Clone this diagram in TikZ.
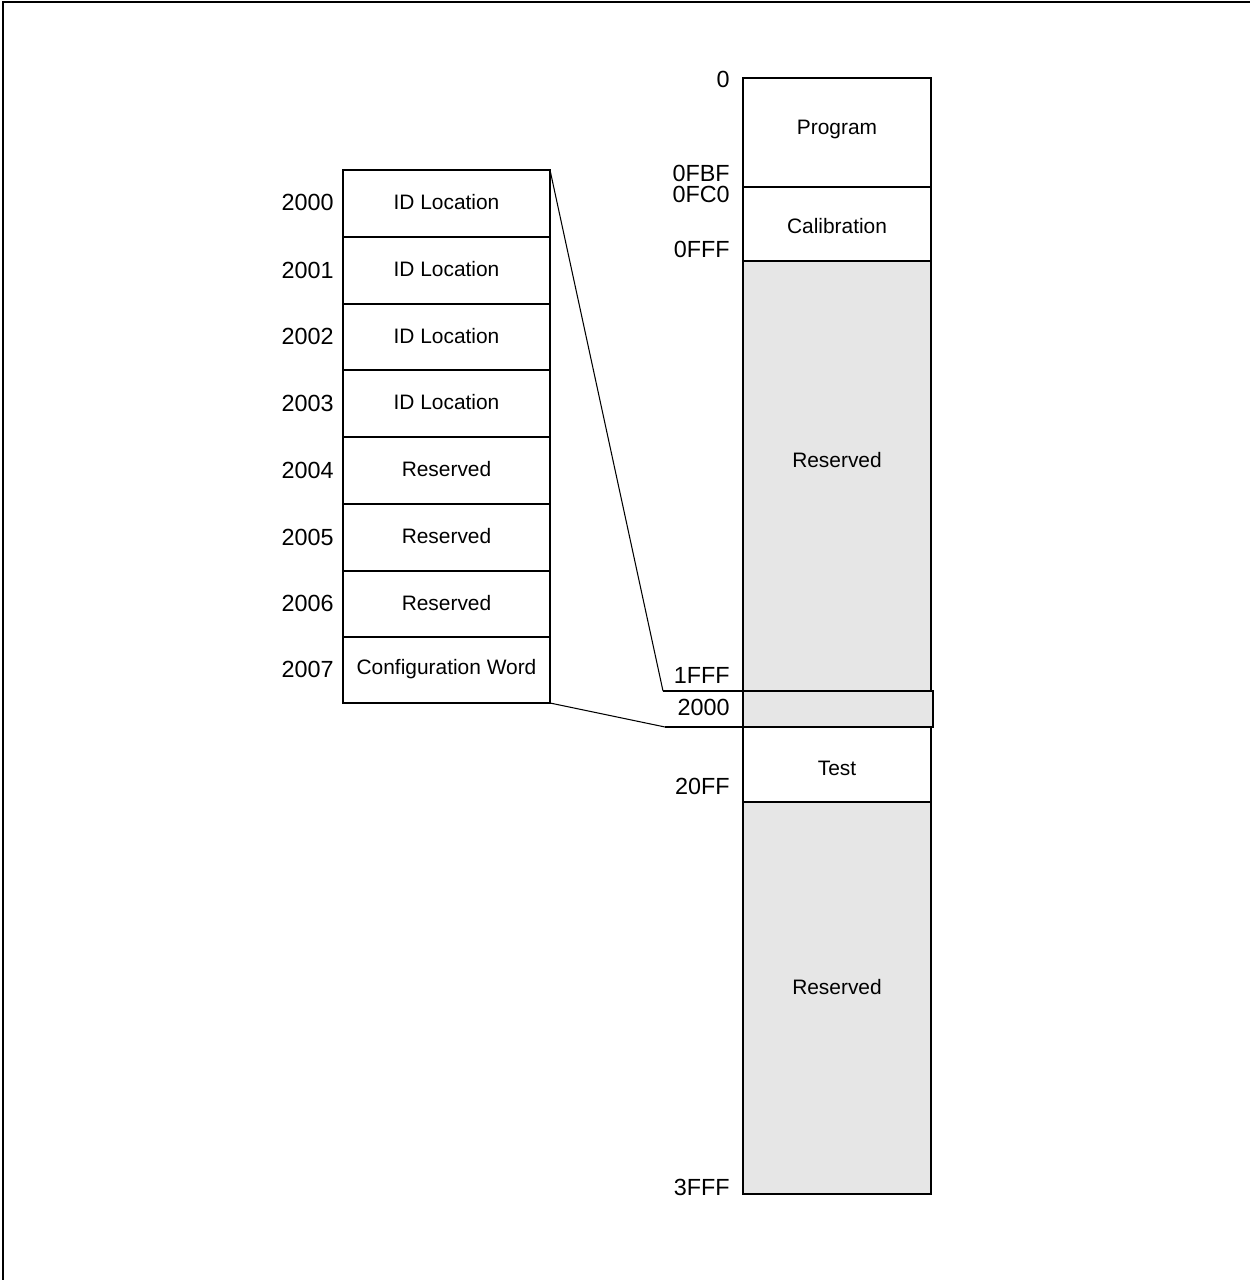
\documentclass[tikz,border=0pt]{standalone}
\usepackage{fontspec}
\setmainfont{Liberation Sans}
\definecolor{resgray}{HTML}{E6E6E6}

\begin{document}
\begin{tikzpicture}[x=0.02cm,y=-0.02cm,
        mem/.style={draw,line width=1pt},
        txt/.style={font=\fontsize{11.9}{14}\selectfont,inner sep=0pt},
        addr/.style={font=\fontsize{13.3}{15}\selectfont,inner sep=0pt,anchor=base east}]
        \useasboundingbox (0,0) rectangle (1250,1280);
        \draw[line width=1.1pt] (3,1280)--(3,2)--(1250,2);
        \foreach \i/\t/\b/\name in {0/170/237/ID Location,1/237/304/ID Location,2/304/370/ID Location,3/370/437/ID Location,4/437/504/Reserved,5/504/571/Reserved,6/571/637/Reserved,7/637/703/Configuration Word}{
            \draw[mem] (343,\t) rectangle (550,\b);
            \node[txt] (row\i) at (446.5,\t/2+\b/2-1) {\name};
            \node[addr] (lab\i) at (334,\t/2+\b/2+7.5) {200\i};
        }
        \foreach \t/\b/\c/\name/\y in {78/187/white/Program/129,187/261/white/Calibration/226,261/691/resgray/Reserved/460,727/802/white/Test/768,802/1194/resgray/Reserved/987}{
            \draw[mem,fill=\c] (743,\t) rectangle (931,\b);
            \node[txt] (m\t) at (837,\y) {\name};
        }
        \draw[mem,fill=resgray] (743,691) rectangle (933,727);
        \node[addr] (a0) at (730,88) {0};
        \node[addr] (a1) at (730,182) {0FBF};
        \node[addr] (a2) at (730,203) {0FC0};
        \node[addr] (a3) at (730,258) {0FFF};
        \node[addr] (a4) at (730,683) {1FFF};
        \node[addr] (a5) at (730,715) {2000};
        \node[addr] (a6) at (730,794) {20FF};
        \node[addr] (a7) at (730,1195) {3FFF};
        \coordinate (up) at (663,691);
        \coordinate (dn) at (665,727);
        \draw[line width=0.8pt] (up)--(743,691);
        \draw[line width=0.8pt] (dn)--(743,727);
        \draw[line width=0.6pt] (550,170)--(up);
        \draw[line width=0.6pt] (550,703)--(dn);
    \end{tikzpicture}
\end{document}
